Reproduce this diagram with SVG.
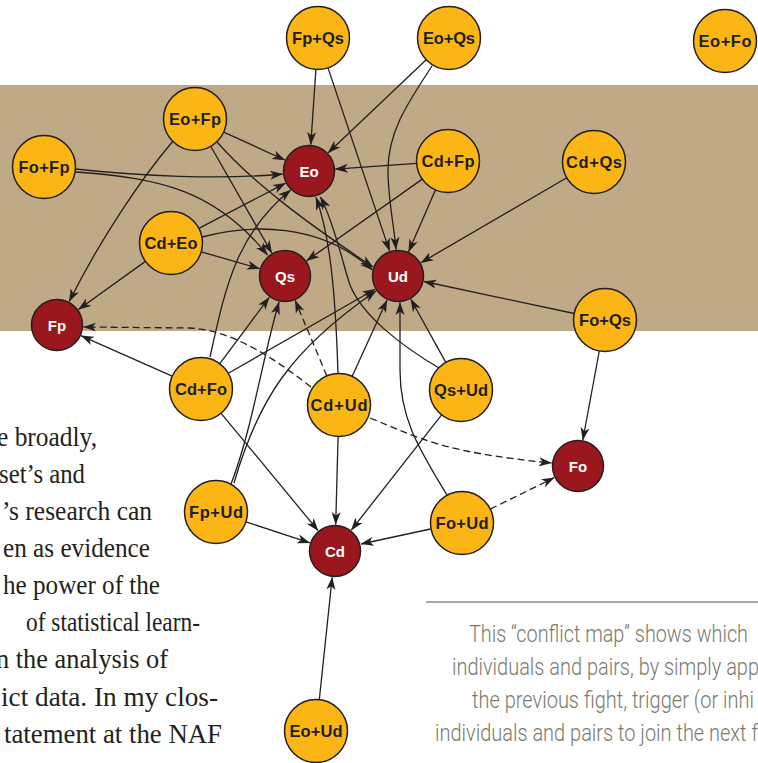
<svg xmlns="http://www.w3.org/2000/svg" width="758" height="763" viewBox="0 0 758 763">
<style>
.pair circle{fill:#FBB616;stroke:#231f20;stroke-width:1.5}
.ind circle{fill:#9A181D;stroke:#231f20;stroke-width:1.5}
.pair text{font-family:"Liberation Sans",Arial,sans-serif;font-weight:bold;font-size:16.5px;fill:#231f20;text-anchor:middle}
.ind text{font-family:"Liberation Sans",Arial,sans-serif;font-weight:bold;font-size:15px;fill:#ffffff;text-anchor:middle}
.e{fill:none;stroke:#231f20;stroke-width:1.3;marker-end:url(#ah)}
.d{stroke-dasharray:7 4}
.body{font-family:"Liberation Serif","Times New Roman",serif;font-size:27px;fill:#231f20}
.cap{font-family:Roboto,"Liberation Sans",sans-serif;font-weight:300;font-size:23px;fill:#7a7a6c}
</style>
<defs>
<marker id="ah" viewBox="0 0 13 10" refX="12.5" refY="5" markerWidth="13" markerHeight="10" markerUnits="userSpaceOnUse" orient="auto">
<path d="M0,0.5 L13,5 L0,9.5 L3.5,5 z" fill="#231f20"/>
</marker>
</defs>
<rect x="0" y="85" width="758" height="246" fill="#BFA986"/>

<g id="connectors">
<path class="e" d="M315.9,69.4 L310.8,144.6"/>
<path class="e" d="M426.2,59.7 L328.2,152.7"/>
<path class="e" d="M223.7,132.1 L284.9,160"/>
<path class="e" d="M75.5,169 C140,176 220,180 282.5,174"/>
<path class="e" d="M416.6,163.3 L335.4,169.1"/>
<path class="e" d="M198.9,228.4 L285.5,183.2"/>
<path class="e" d="M210,357 C225,290 235,235 290.7,190"/>
<path class="e" d="M338,374 C336,310 332,240 316,197.5"/>
<path class="e" d="M439,368 C400,345 362,315 350,285 C343,265 335,225 320.5,197"/>
<path class="e" d="M210.7,146.3 L271.8,253"/>
<path class="e" d="M75.5,172 C160,178 215,190 267.5,255"/>
<path class="e" d="M201.2,251.8 L259.6,268.6"/>
<path class="e" d="M422.3,179.1 L306.7,260.7"/>
<path class="e" d="M219.8,363.7 L269.2,297.3"/>
<path class="e" d="M231,484 C252,430 262,360 279,302"/>
<path class="e d" d="M326.8,375.9 L295.2,300.5"/>
<path class="e" d="M328,67.9 L389.5,250.9"/>
<path class="e" d="M432,66 C410,100 388,130 388,170 C388,200 394,225 396,249.5"/>
<path class="e" d="M435.4,189.9 L408.6,251.7"/>
<path class="e" d="M566.8,177.8 L420.9,262.7"/>
<path class="e" d="M574.2,313.5 L423.9,281.5"/>
<path class="e" d="M217,142 C255,185 310,225 373,267"/>
<path class="e" d="M202,237 C250,224 320,222 372.5,270"/>
<path class="e" d="M228.3,373.3 L375,289.2"/>
<path class="e" d="M234,483 C258,400 290,350 376,291"/>
<path class="e" d="M352.1,376.4 L387,300.1"/>
<path class="e" d="M447,495 C420,450 400,420 400,370 L400,302.5"/>
<path class="e" d="M445.8,362.4 L410.8,299.2"/>
<path class="e" d="M173,141 C140,180 100,240 69.2,301.5"/>
<path class="e" d="M145.4,261.4 L78.5,309.5"/>
<path class="e" d="M172.2,376.2 L81.2,335.8"/>
<path class="e d" d="M311,387 C270,355 230,330 190,328 L83.5,327"/>
<path class="e" d="M221.1,413.3 L318.1,530.6"/>
<path class="e" d="M338.1,436.5 L335.7,524.5"/>
<path class="e" d="M441.6,414.8 L351.3,530.1"/>
<path class="e" d="M245.9,521.8 L309.8,542.8"/>
<path class="e" d="M430.5,529 L361,544"/>
<path class="e" d="M319.3,699.7 L332.2,577.3"/>
<path class="e" d="M599.3,351 L582.8,440"/>
<path class="e d" d="M370,418 C420,438 440,452 551.5,463"/>
<path class="e d" d="M490.3,509.1 L554.2,477.7"/>
</g>

<g id="n-fp-qs" class="pair"><circle cx="318" cy="38" r="31.5"/><text x="318" y="43.7" textLength="52">Fp+Qs</text></g>
<g id="n-eo-qs" class="pair"><circle cx="449" cy="38" r="31.5"/><text x="449" y="43.7" textLength="52">Eo+Qs</text></g>
<g id="n-eo-fo" class="pair"><circle cx="725" cy="41" r="31.5"/><text x="725" y="46.7" textLength="53">Eo+Fo</text></g>
<g id="n-eo-fp" class="pair"><circle cx="195" cy="119" r="31.5"/><text x="195" y="124.7" textLength="52">Eo+Fp</text></g>
<g id="n-fo-fp" class="pair"><circle cx="44" cy="167" r="31.5"/><text x="44" y="172.7" textLength="51">Fo+Fp</text></g>
<g id="n-cd-eo" class="pair"><circle cx="171" cy="243" r="31.5"/><text x="171" y="248.7" textLength="53">Cd+Eo</text></g>
<g id="n-cd-fp" class="pair"><circle cx="448" cy="161" r="31.5"/><text x="448" y="166.7" textLength="53">Cd+Fp</text></g>
<g id="n-cd-qs" class="pair"><circle cx="594" cy="162" r="31.5"/><text x="594" y="167.7" textLength="56">Cd+Qs</text></g>
<g id="n-fo-qs" class="pair"><circle cx="605" cy="320" r="31.5"/><text x="605" y="325.7" textLength="52">Fo+Qs</text></g>
<g id="n-cd-fo" class="pair"><circle cx="201" cy="389" r="31.5"/><text x="201" y="394.7" textLength="52">Cd+Fo</text></g>
<g id="n-cd-ud" class="pair"><circle cx="339" cy="405" r="31.5"/><text x="339" y="410.7" textLength="57">Cd+Ud</text></g>
<g id="n-qs-ud" class="pair"><circle cx="461" cy="390" r="31.5"/><text x="461" y="395.7" textLength="54">Qs+Ud</text></g>
<g id="n-fp-ud" class="pair"><circle cx="216" cy="512" r="31.5"/><text x="216" y="517.7" textLength="54">Fp+Ud</text></g>
<g id="n-fo-ud" class="pair"><circle cx="462" cy="523" r="31.5"/><text x="462" y="528.7" textLength="53">Fo+Ud</text></g>
<g id="n-eo-ud" class="pair"><circle cx="316" cy="731" r="31.5"/><text x="316" y="736.7" textLength="53">Eo+Ud</text></g>

<g id="n-eo" class="ind"><circle cx="309" cy="171" r="25.5"/><text x="309" y="176.5">Eo</text></g>
<g id="n-qs" class="ind"><circle cx="285" cy="276" r="25.5"/><text x="285" y="281.5">Qs</text></g>
<g id="n-ud" class="ind"><circle cx="398" cy="276" r="25.5"/><text x="398" y="281.5">Ud</text></g>
<g id="n-fp" class="ind"><circle cx="57" cy="325" r="25.5"/><text x="57" y="330.5">Fp</text></g>
<g id="n-cd" class="ind"><circle cx="335" cy="551" r="25.5"/><text x="335" y="556.5">Cd</text></g>
<g id="n-fo" class="ind"><circle cx="578" cy="466" r="25.5"/><text x="578" y="471.5">Fo</text></g>

<g id="body-text" class="body">
<text x="-3" y="445.7" textLength="100" lengthAdjust="spacingAndGlyphs">e broadly,</text>
<text x="-1" y="482.7" textLength="86" lengthAdjust="spacingAndGlyphs">set’s and</text>
<text x="2" y="520" textLength="150" lengthAdjust="spacingAndGlyphs">’s research can</text>
<text x="3" y="556.7" textLength="147" lengthAdjust="spacingAndGlyphs">en as evidence</text>
<text x="3" y="594" textLength="157" lengthAdjust="spacingAndGlyphs">he power of the</text>
<text x="26" y="630.5" textLength="174" lengthAdjust="spacingAndGlyphs">of statistical learn-</text>
<text x="-4" y="668" textLength="172" lengthAdjust="spacingAndGlyphs">n the analysis of</text>
<text x="1" y="706" textLength="217" lengthAdjust="spacingAndGlyphs">ict data. In my clos-</text>
<text x="4" y="743" textLength="218" lengthAdjust="spacingAndGlyphs">tatement at the NAF</text>
</g>

<g id="caption">
<line x1="426" y1="602" x2="758" y2="602" stroke="#8c8c80" stroke-width="1.5"/>
<text class="cap" x="469" y="642" textLength="279" lengthAdjust="spacingAndGlyphs">This “conflict map” shows which</text>
<text class="cap" x="452" y="675" textLength="307" lengthAdjust="spacingAndGlyphs">individuals and pairs, by simply app</text>
<text class="cap" x="472" y="708" textLength="282" lengthAdjust="spacingAndGlyphs">the previous fight, trigger (or inhi</text>
<text class="cap" x="435" y="741" textLength="323" lengthAdjust="spacingAndGlyphs">individuals and pairs to join the next f</text>
</g>
</svg>
